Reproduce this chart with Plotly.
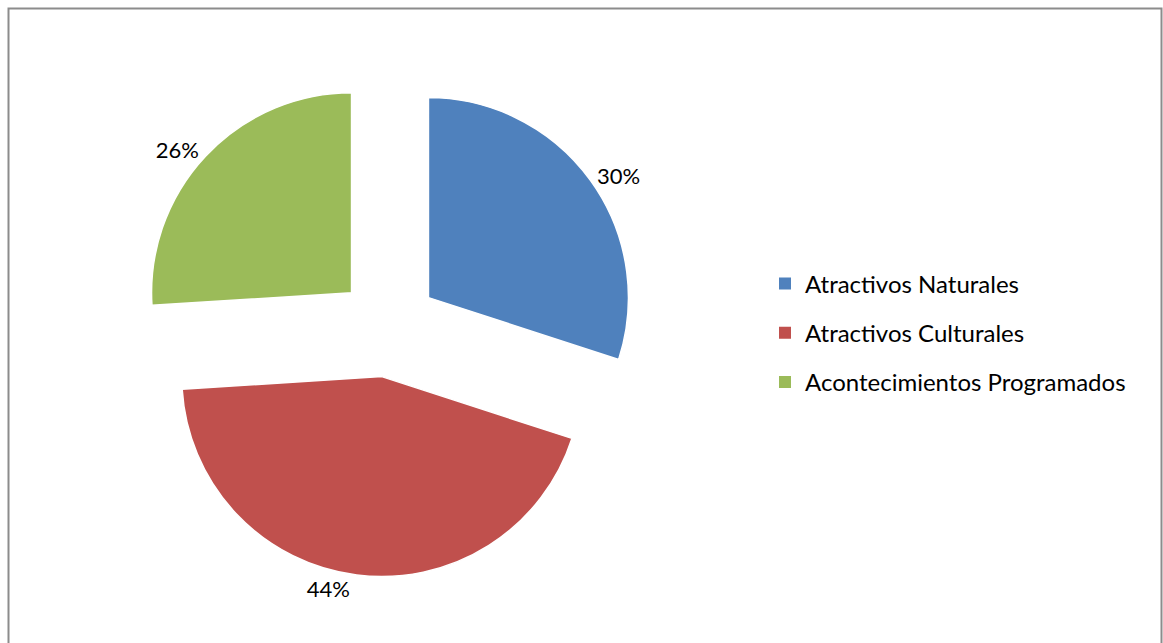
import plotly.graph_objects as go

categories = ["Atractivos Naturales", "Atractivos Culturales", "Acontecimientos Programados"]
values = [30, 44, 26]
colors = ["#4F81BD", "#C0504D", "#9BBB59"]

W, H = 1163, 643
FONT = "Lato"

fig = go.Figure()
fig.add_trace(go.Pie(
    labels=categories, values=values, sort=False, direction="clockwise", rotation=0,
    pull=[0.25] * len(values),
    marker=dict(colors=colors, line=dict(color="white", width=1.5)),
    textinfo="percent", textposition="outside",
    outsidetextfont=dict(family=FONT, size=22, color="black"),
    showlegend=False,
    domain=dict(x=[138 / W, 638 / W], y=[1 - 577 / H, 1 - 77 / H]),
    hoverinfo="label+percent",
))

# legend entries (one group each so the row spacing can be set)
for i, (c, col) in enumerate(zip(categories, colors)):
    fig.add_trace(go.Scatter(
        x=[None], y=[None], mode="markers", name=c, legendgroup=f"g{i}",
        marker=dict(symbol="square", size=12, color=col),
    ))

fig.update_layout(
    width=W, height=H, autosize=False,
    margin=dict(l=0, r=0, t=0, b=0, pad=0, autoexpand=False),
    paper_bgcolor="white", plot_bgcolor="white",
    xaxis=dict(visible=False), yaxis=dict(visible=False),
    font=dict(family=FONT, size=24, color="black"),
    legend=dict(x=765 / W, xanchor="left", y=1 - 333 / H, yanchor="middle",
                font=dict(family=FONT, size=24, color="black"),
                tracegroupgap=15, traceorder="grouped", bgcolor="rgba(0,0,0,0)"),
    shapes=[dict(type="rect", xref="paper", yref="paper",
                 x0=8.5 / W, x1=1161.5 / W, y0=-0.05, y1=1 - 8.5 / H,
                 line=dict(color="#8c8c8c", width=2), fillcolor="rgba(0,0,0,0)")],
)

fig.write_html(
    "out.html",
    config={"displayModeBar": False},
    post_script="document.body.style.margin='0';document.body.style.overflow='hidden';",
)
